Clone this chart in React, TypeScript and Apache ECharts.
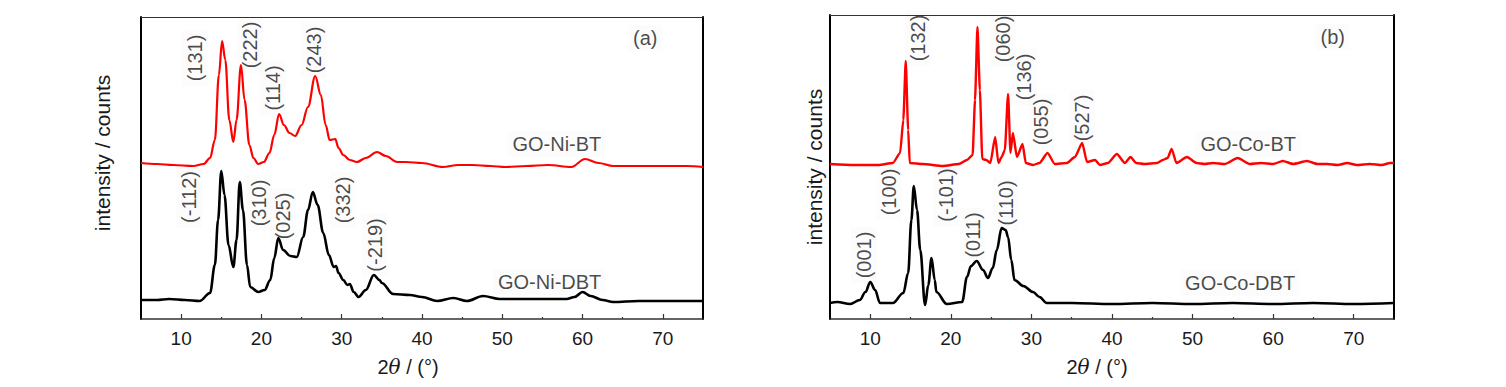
import React, { useEffect, useRef } from "react";
import * as echarts from "echarts";

// ---- Panel (a): GO-Ni ----
const niBtAngle = [5.0, 7.0, 9.0, 11.5, 12.8, 13.6, 14.2, 14.7, 15.1, 15.5, 16.0, 16.5, 16.9, 17.45, 17.9, 18.5, 19.0, 19.6, 20.3, 21.0, 21.6, 22.2, 22.8, 23.5, 24.2, 25.0, 25.8, 26.7, 27.4, 28.0, 28.5, 29.2, 29.6, 30.2, 31.0, 31.9, 33.0, 34.4, 35.5, 36.9, 38.0, 40.0, 42.6, 44.5, 46.3, 48.5, 50.4, 53.0, 55.7, 58.6, 60.3, 62.0, 63.8, 67.0, 70.0, 73.0, 75.0];
const niBtIntensity = [156, 155, 154, 153, 155, 161, 179, 244, 278, 259, 199, 177, 199, 254, 219, 174, 161, 155, 157, 166, 184, 205, 194, 186, 183, 194, 212, 243, 224, 194, 179, 180, 171, 164, 159, 157, 161, 167, 163, 157, 157, 156, 152, 154, 154, 153, 152, 153, 154, 152, 160, 156, 153, 153, 153, 153, 152];

const niDbtAngle = [5.0, 7.0, 8.5, 10.5, 12.3, 13.6, 14.2, 14.6, 15.0, 15.4, 15.9, 16.5, 16.9, 17.3, 17.7, 18.2, 18.6, 19.6, 20.4, 21.1, 21.6, 22.1, 22.7, 23.6, 24.4, 25.2, 25.8, 26.4, 27.0, 27.7, 28.4, 29.0, 29.3, 29.6, 30.2, 30.7, 31.0, 31.5, 32.1, 33.0, 34.0, 34.7, 35.0, 36.4, 38.5, 40.0, 41.9, 43.9, 45.6, 47.6, 49.7, 53.8, 58.0, 59.0, 60.0, 61.0, 62.5, 63.8, 67.0, 70.0, 75.0];
const niDbtIntensity = [19, 19, 20, 19, 18, 26, 54, 99, 148, 124, 74, 52, 79, 137, 109, 54, 32, 27, 29, 39, 61, 81, 69, 63, 62, 82, 109, 127, 114, 86, 64, 52, 53, 46, 39, 34, 35, 27, 22, 29, 44, 39, 36, 25, 24, 22, 18, 21, 18, 23, 20, 20, 20, 22, 27, 23, 19, 17, 18, 18, 18];

const niPeakLabels = ["(131)", "(222)", "(114)", "(243)", "(-112)", "(310)", "(025)", "(332)", "(-219)"];
const niPeakLabelAngle = [11.7, 18.6, 21.4, 26.5, 11.0, 19.7, 22.7, 30.2, 34.1];
const niPeakLabelLevel = [261, 274, 231, 269, 122, 116, 103, 119, 74];

const niTexts = ["(a)", "GO-Ni-BT", "GO-Ni-DBT"];
const niTextAngle = [67.8, 56.8, 55.9];
const niTextLevel = [281, 175, 37];

// ---- Panel (b): GO-Co ----
const coBtAngle = [5.0, 8.0, 11.0, 12.8, 13.7, 14.1, 14.4, 14.7, 14.9, 16.5, 19.0, 21.0, 22.0, 22.7, 23.0, 23.3, 23.6, 23.9, 24.4, 24.9, 25.5, 25.9, 26.3, 26.7, 27.1, 27.4, 27.7, 28.2, 28.9, 29.3, 30.2, 31.0, 32.0, 32.9, 34.4, 35.4, 36.3, 36.9, 37.9, 38.5, 39.5, 40.6, 41.6, 42.3, 43.0, 44.0, 45.6, 46.3, 46.9, 47.4, 48.0, 49.3, 50.5, 51.5, 52.5, 54.0, 55.6, 57.1, 58.5, 60.0, 61.2, 62.5, 64.2, 65.5, 66.7, 68.0, 69.2, 70.4, 72.0, 73.5, 74.5, 75.0];
const coBtIntensity = [155, 154, 154, 156, 166, 199, 258, 189, 156, 155, 153, 155, 159, 164, 219, 292, 229, 160, 159, 156, 182, 156, 162, 169, 225, 166, 186, 162, 175, 156, 154, 156, 166, 155, 156, 162, 176, 157, 159, 154, 156, 165, 156, 162, 156, 155, 156, 159, 161, 170, 156, 162, 156, 155, 156, 155, 161, 155, 156, 155, 158, 155, 158, 155, 155, 154, 156, 154, 155, 154, 156, 156];

const coDbtAngle = [5.0, 5.9, 7.5, 8.7, 9.4, 10.0, 10.6, 11.2, 12.8, 14.1, 14.7, 15.1, 15.4, 15.8, 16.2, 16.8, 17.2, 17.6, 18.0, 18.2, 19.5, 21.4, 22.0, 22.5, 23.2, 24.0, 24.6, 25.2, 25.7, 26.3, 26.8, 27.1, 27.5, 27.9, 29.0, 30.2, 31.0, 31.9, 35.0, 40.0, 45.0, 50.0, 55.0, 60.0, 65.0, 70.0, 75.0];
const coDbtIntensity = [16, 17, 15, 19, 27, 37, 29, 16, 16, 26, 46, 99, 133, 109, 69, 14, 34, 61, 39, 27, 15, 17, 42, 53, 58, 49, 41, 51, 69, 91, 89, 82, 59, 39, 33, 27, 22, 16, 16, 15, 16, 15, 16, 15, 16, 15, 16];

const coPeakLabels = ["(132)", "(060)", "(136)", "(055)", "(527)", "(001)", "(100)", "(-101)", "(011)", "(110)"];
const coPeakLabelAngle = [15.9, 26.5, 29.1, 31.2, 36.3, 9.2, 12.3, 19.4, 22.7, 26.8];
const coPeakLabelLevel = [281, 280, 242, 197, 201, 64, 127, 124, 84, 116];

const coTexts = ["(b)", "GO-Co-BT", "GO-Co-DBT"];
const coTextAngle = [67.4, 56.9, 55.9];
const coTextLevel = [282, 175, 36];

const xMin = 5;
const xMax = 75;
const majorTicks = [10, 20, 30, 40, 50, 60, 70];
const minorTicks = [15, 25, 35, 45, 55, 65];
const yAxisName = "intensity / counts";

const FONT = "Liberation Sans, Arial, sans-serif";
const TEXT = "#1a1a1a";

const zip = (a: number[], b: number[]) => a.map((x, i) => [x, b[i]]);

function App() {
  const ref = useRef<HTMLDivElement>(null);
  useEffect(() => {
    if (!ref.current) return;
    const chart = echarts.init(ref.current, undefined, { renderer: "svg" });

    const grids = [
      { left: 141, top: 17, width: 562, height: 302, yMax: 302 },
      { left: 830, top: 15, width: 564, height: 304, yMax: 304 },
    ];

    const xAxes: any[] = [];
    const yAxes: any[] = [];
    grids.forEach((g, gi) => {
      xAxes.push({
        type: "value", gridIndex: gi, min: xMin, max: xMax, interval: 5, position: "bottom",
        axisLine: { show: true, onZero: false, lineStyle: { color: "#333", width: 1.5 } },
        axisTick: { show: true, inside: true, length: 5, customValues: majorTicks, lineStyle: { color: "#333", width: 1.2 } },
        axisLabel: { show: true, customValues: majorTicks, margin: 10, fontSize: 19, color: TEXT, fontFamily: FONT },
        splitLine: { show: false },
      });
      xAxes.push({
        type: "value", gridIndex: gi, min: xMin, max: xMax, interval: 5, position: "bottom",
        axisLine: { show: false, onZero: false },
        axisTick: { show: true, inside: true, length: 2, customValues: minorTicks, lineStyle: { color: "#333", width: 1.2 } },
        axisLabel: { show: false },
        splitLine: { show: false },
      });
      xAxes.push({
        type: "value", gridIndex: gi, min: xMin, max: xMax, position: "top",
        axisLine: { show: true, onZero: false, lineStyle: { color: "#333", width: 1 } },
        axisTick: { show: false }, axisLabel: { show: false }, splitLine: { show: false },
      });
      yAxes.push({
        type: "value", gridIndex: gi, min: 0, max: g.yMax, position: "left",
        axisLine: { show: true, onZero: false, lineStyle: { color: "#000", width: 2 } },
        axisTick: { show: false }, axisLabel: { show: false }, splitLine: { show: false },
      });
      yAxes.push({
        type: "value", gridIndex: gi, min: 0, max: g.yMax, position: "right",
        axisLine: { show: true, onZero: false, lineStyle: { color: "#000", width: 2 } },
        axisTick: { show: false }, axisLabel: { show: false }, splitLine: { show: false },
      });
    });

    const lineSeries = (name: string, xs: number[], ys: number[], gi: number, color: string, width: number, smooth: number) => ({
      type: "line", name, xAxisIndex: gi * 3, yAxisIndex: gi * 2,
      data: zip(xs, ys), showSymbol: false, symbol: "none", smooth, smoothMonotone: "x",
      lineStyle: { color, width, join: "round" }, z: 3,
    });

    const labelSeries = (texts: string[], xs: number[], ys: number[], gi: number, rotate: number, size: number) => ({
      type: "scatter", xAxisIndex: gi * 3, yAxisIndex: gi * 2, symbolSize: 0, silent: true, z: 5,
      itemStyle: { color: "transparent" },
      data: texts.map((t, i) => ({ value: [xs[i], ys[i]], name: t })),
      label: {
        show: true, position: "inside", rotate, formatter: (p: any) => p.name,
        fontSize: size, color: TEXT, fontFamily: FONT, align: "center", verticalAlign: "middle",
        textBorderWidth: 0, textBorderColor: "transparent",
        backgroundColor: "rgba(0,0,0,0.016)", padding: [3, 5],
      },
    });

    const axisTitle = (x: number, y: number) => ({
      type: "text", x, y,
      style: {
        text: "{n|2}{t|θ}{n| / (°)}",
        align: "center", verticalAlign: "middle",
        rich: {
          n: { fontSize: 20, fontFamily: FONT, fill: TEXT, color: TEXT },
          t: { fontSize: 20, fontFamily: "DejaVu Serif, serif", fontStyle: "italic", fill: TEXT, color: TEXT },
        },
      },
    });
    const yTitle = (x: number, y: number) => ({
      type: "text", x, y, rotation: Math.PI / 2,
      style: { text: yAxisName, fontSize: 21, fontFamily: FONT, fill: TEXT, align: "center", verticalAlign: "middle" },
    });

    chart.setOption({
      animation: false,
      backgroundColor: "#ffffff",
      grid: grids.map((g) => ({ left: g.left, top: g.top, width: g.width, height: g.height, containLabel: false })),
      xAxis: xAxes,
      yAxis: yAxes,
      series: [
        lineSeries("GO-Ni-BT", niBtAngle, niBtIntensity, 0, "#ff0000", 2.2, 0.35),
        lineSeries("GO-Ni-DBT", niDbtAngle, niDbtIntensity, 0, "#000000", 2.6, 0.35),
        lineSeries("GO-Co-BT", coBtAngle, coBtIntensity, 1, "#ff0000", 2.4, 0.2),
        lineSeries("GO-Co-DBT", coDbtAngle, coDbtIntensity, 1, "#000000", 2.6, 0.35),
        labelSeries(niPeakLabels, niPeakLabelAngle, niPeakLabelLevel, 0, 90, 20),
        labelSeries(niTexts, niTextAngle, niTextLevel, 0, 0, 20),
        labelSeries(coPeakLabels, coPeakLabelAngle, coPeakLabelLevel, 1, 90, 20),
        labelSeries(coTexts, coTextAngle, coTextLevel, 1, 0, 20),
      ],
      graphic: [
        axisTitle(408, 367),
        axisTitle(1097, 367),
        yTitle(102, 153),
        yTitle(814, 167),
      ],
    });
    return () => chart.dispose();
  }, []);
  return <div ref={ref} style={{ position: "absolute", left: 0, top: 0, width: 1506, height: 387 }} />;
}

export default App;
